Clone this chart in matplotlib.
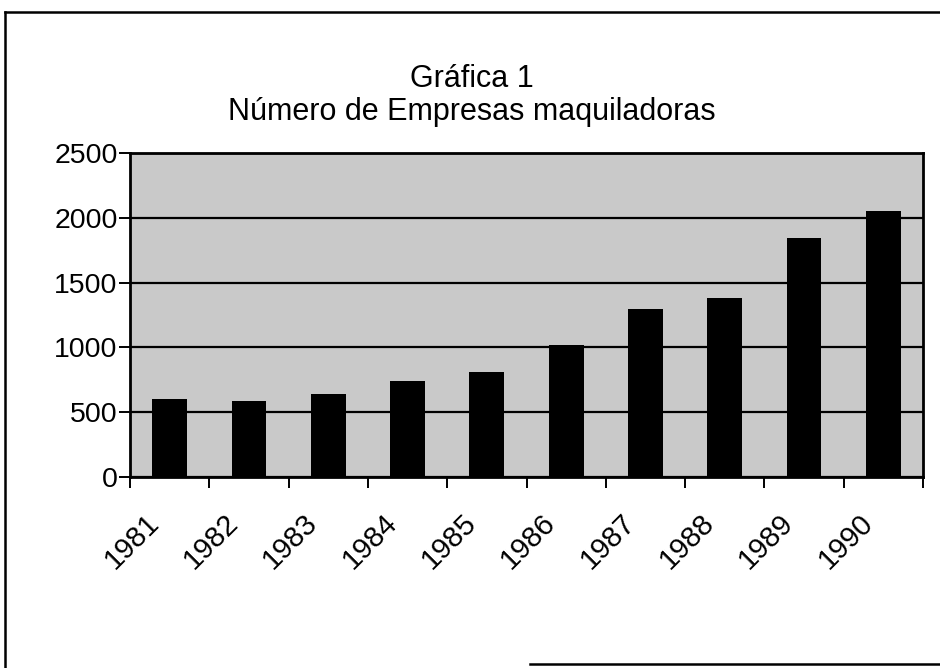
"""Gráfica 1: número de empresas maquiladoras, 1981-1990"""

import numpy as np
import matplotlib.pyplot as plt
from matplotlib.lines import Line2D
from matplotlib.transforms import ScaledTranslation

# Datos
anios = ['1981', '1982', '1983', '1984', '1985',
         '1986', '1987', '1988', '1989', '1990']
empresas = [600, 585, 640, 740, 810, 1020, 1295, 1380, 1845, 2055]
y_ticks = [0, 500, 1000, 1500, 2000, 2500]

plt.rcParams['font.family'] = ['Liberation Sans', 'DejaVu Sans']

W, H = 940, 668
fig = plt.figure(figsize=(W / 100, H / 100), dpi=100)
fig.patch.set_facecolor('white')

# Área de trazado (en pixeles de la figura)
left, right, top, bottom = 130, 923, 153, 477
ax = fig.add_axes([left / W, 1 - bottom / H, (right - left) / W, (bottom - top) / H])
ax.set_facecolor('#c9c9c9')

x = np.arange(len(anios))
ax.bar(x, empresas, width=0.44, color='black', zorder=3)

ax.set_xlim(-0.5, len(anios) - 0.5)
ax.set_ylim(0, 2500)
ax.set_yticks(y_ticks)
ax.set_yticklabels([str(v) for v in y_ticks], fontsize=20.5)
ax.yaxis.grid(True, color='black', linewidth=1.6, zorder=2)
ax.set_axisbelow(True)

# Marcas del eje x entre categorías, etiquetas giradas 45°
ax.set_xticks(np.arange(len(anios) + 1) - 0.5, minor=False)
ax.set_xticklabels([])
ax.set_xticks(x, minor=True)
ax.set_xticklabels(anios, minor=True, fontsize=21, rotation=45,
                   ha='right', va='center', rotation_mode='anchor')
ax.tick_params(axis='x', which='major', length=8, width=1.4, direction='out')
ax.tick_params(axis='x', which='minor', length=0, pad=36)
ax.tick_params(axis='y', length=8, width=1.4, direction='out', pad=1)

# corre las etiquetas un poco a la izquierda y hacia arriba
desplaza = ScaledTranslation(-15 / 100, 8 / 100, fig.dpi_scale_trans)
for lbl in ax.get_xticklabels(minor=True):
    lbl.set_transform(lbl.get_transform() + desplaza)

for s in ax.spines.values():
    s.set_linewidth(2)
    s.set_color('black')

# Títulos
fig.text(472 / W, 1 - 79 / H, 'Gráfica 1', ha='center', va='center', fontsize=22)
fig.text(472 / W, 1 - 112 / H, 'Número de Empresas maquiladoras',
         ha='center', va='center', fontsize=22)

# Marco del área del gráfico
def px(xp, yp):
    return xp / W, 1 - yp / H

for (x0, y0), (x1, y1) in [((5, 12), (940, 12)), ((5, 12), (5, 668)),
                           ((530, 664), (940, 664))]:
    (a0, b0), (a1, b1) = px(x0, y0), px(x1, y1)
    fig.add_artist(Line2D([a0, a1], [b0, b1], color='black', linewidth=1.8))

plt.savefig('out.png', dpi=100)
